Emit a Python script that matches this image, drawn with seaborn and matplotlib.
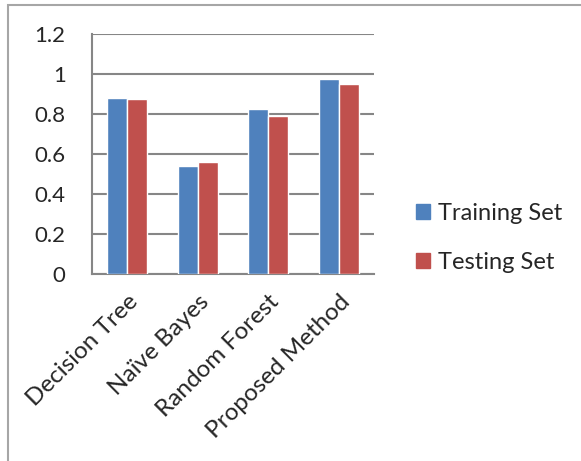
import matplotlib
matplotlib.use("Agg")
import matplotlib.pyplot as plt
import matplotlib.patches as mpatches
import numpy as np
import pandas as pd
import seaborn as sns

methods = ["Decision Tree", "Naïve Bayes", "Random Forest", "Proposed Method"]
training = [0.88, 0.54, 0.823, 0.973]
testing = [0.877, 0.56, 0.79, 0.95]
series = ["Training Set", "Testing Set"]
colors = ["#4F81BD", "#C0504D"]
yticks = [0, 0.2, 0.4, 0.6, 0.8, 1, 1.2]
ytick_labels = ["0", "0.2", "0.4", "0.6", "0.8", "1", "1.2"]

df = pd.DataFrame({
    "Method": methods * 2,
    "Set": [series[0]] * 4 + [series[1]] * 4,
    "Score": training + testing,
})

sns.set_style("white")
plt.rcParams['font.family'] = ['Lato', 'DejaVu Sans']
fs = 16

fig = plt.figure(figsize=(5.81, 4.61), dpi=100)
ax = fig.add_axes([0.1583, 0.4056, 0.6437 - 0.1583, 0.9262 - 0.4056])

sns.barplot(data=df, x="Method", y="Score", hue="Set", palette=colors,
            width=0.567, saturation=1, ax=ax, legend=False, zorder=3)

grid_c = "#868686"
ax.set_ylim(0, 1.2)
ax.set_xlim(-0.5, 3.5)
ax.set_yticks(yticks)
ax.set_yticklabels(ytick_labels, fontsize=fs)
ax.yaxis.grid(True, color=grid_c, lw=1.5, zorder=0)
ax.set_axisbelow(True)
ax.set_xlabel("")
ax.set_ylabel("")

ax.set_xticks(range(4))
ax.set_xticklabels(methods, rotation=45, ha="right", rotation_mode="anchor", fontsize=17.5)
ax.tick_params(axis="x", which="major", length=0, pad=12)
ax.set_xticks(np.arange(-0.5, 4, 1), minor=True)
ax.tick_params(axis="x", which="minor", length=6, width=1.5, color=grid_c, direction="out")
ax.tick_params(axis="y", length=7, width=1.5, color=grid_c, direction="out", pad=12)

for s in ["top", "right"]:
    ax.spines[s].set_visible(False)
for s in ["left", "bottom"]:
    ax.spines[s].set_color(grid_c)
    ax.spines[s].set_linewidth(1.5)

handles = [mpatches.Patch(color=c, label=l) for c, l in zip(colors, series)]
fig.legend(handles=handles, loc="center left", bbox_to_anchor=(0.68, 0.484),
           frameon=False, fontsize=17, handlelength=0.6, handleheight=0.6,
           handletextpad=0.3, labelspacing=1.2)

border = mpatches.Rectangle((8 / 581, -0.05), 1.1, 1 - 5 / 461 + 0.05,
                            transform=fig.transFigure, fill=False,
                            edgecolor="#A6A6A6", lw=1.5)
fig.patches.append(border)

fig.savefig("out.png", dpi=100)
